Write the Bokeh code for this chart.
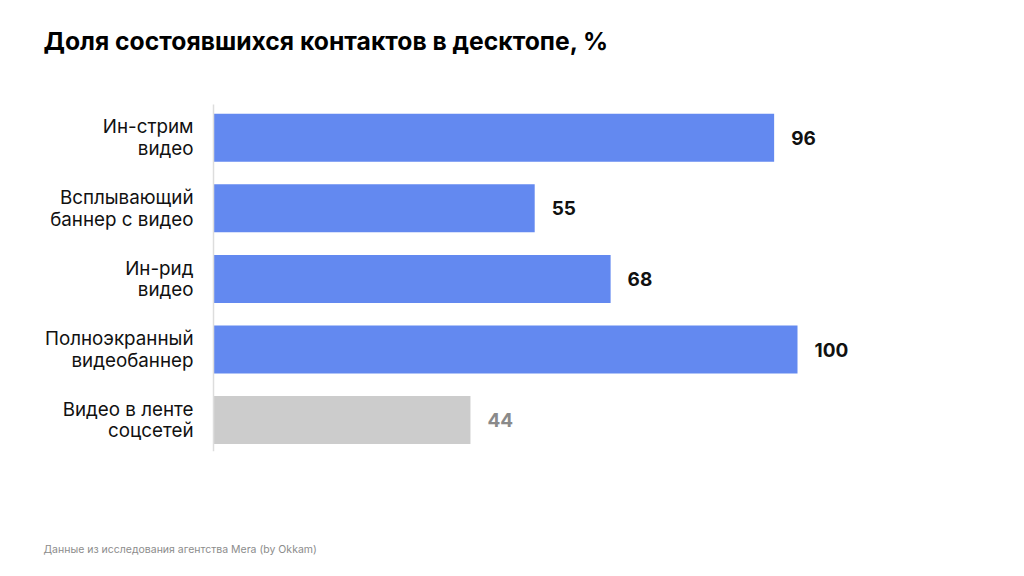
from bokeh.plotting import figure
from bokeh.models import Range1d, Label, ColumnDataSource
from bokeh.embed import file_html
from bokeh.resources import INLINE
from bokeh.core.properties import value

categories = ["Ин-стрим\nвидео", "Всплывающий\nбаннер с видео", "Ин-рид\nвидео",
              "Полноэкранный\nвидеобаннер", "Видео в ленте\nсоцсетей"]
values = [96, 55, 68, 100, 44]
bar_colors = ["#6389F0", "#6389F0", "#6389F0", "#6389F0", "#CCCCCC"]
label_colors = ["#111111", "#111111", "#111111", "#111111", "#8A8A8A"]
title_text = "Доля состоявшихся контактов в десктопе, %"
source_text = "Данные из исследования агентства Mera (by Okkam)"

W, H = 1024, 576
x0_px, px_per_unit = 213, 5.84
row0_px, row_step = 137.2, 70.6

rows = list(range(len(categories)))
src = ColumnDataSource(dict(
    y=rows, v=values, cat=categories, col=bar_colors, lcol=label_colors,
    vtxt=[str(v) for v in values]))

p = figure(width=W, height=H, output_backend="svg", toolbar_location=None,
           x_range=Range1d(-x0_px / px_per_unit, (W - x0_px) / px_per_unit),
           y_range=Range1d((H - row0_px) / row_step, -row0_px / row_step),
           min_border=0, outline_line_color=None)
p.axis.visible = False
p.grid.visible = False
p.background_fill_color = "white"
p.border_fill_color = "white"

p.hbar(y="y", right="v", left=0, height=0.68, fill_color="col", line_color=None, source=src)

# axis line
p.segment(x0=[0], x1=[0], y0=[-0.47], y1=[len(categories) - 1 + 0.44],
          line_color="#DDDDDD", line_width=1.5)

p.text(x="v", y="y", text="vtxt", x_offset=17, text_baseline="middle", text_align="left",
       text_font=value("Inter"), text_font_style="bold", text_font_size="19px",
       text_color="lcol", source=src)

p.text(x=0, y="y", text="cat", x_offset=-20, text_baseline="middle", text_align="right",
       text_font=value("Inter"), text_font_size="18.8px", text_line_height=0.94,
       text_color="#111111", source=src)

p.add_layout(Label(x=43, y=H - 40, x_units="screen", y_units="screen", text=title_text,
                   text_font="Inter", text_font_style="bold", text_font_size="24.7px",
                   text_color="#000000", text_baseline="alphabetic"))
p.add_layout(Label(x=43, y=H - 549, x_units="screen", y_units="screen", text=source_text,
                   text_font="Inter", text_font_size="10.5px",
                   text_color="#8C8C8C", text_baseline="alphabetic"))

open("out.html", "w").write(file_html(p, INLINE))
